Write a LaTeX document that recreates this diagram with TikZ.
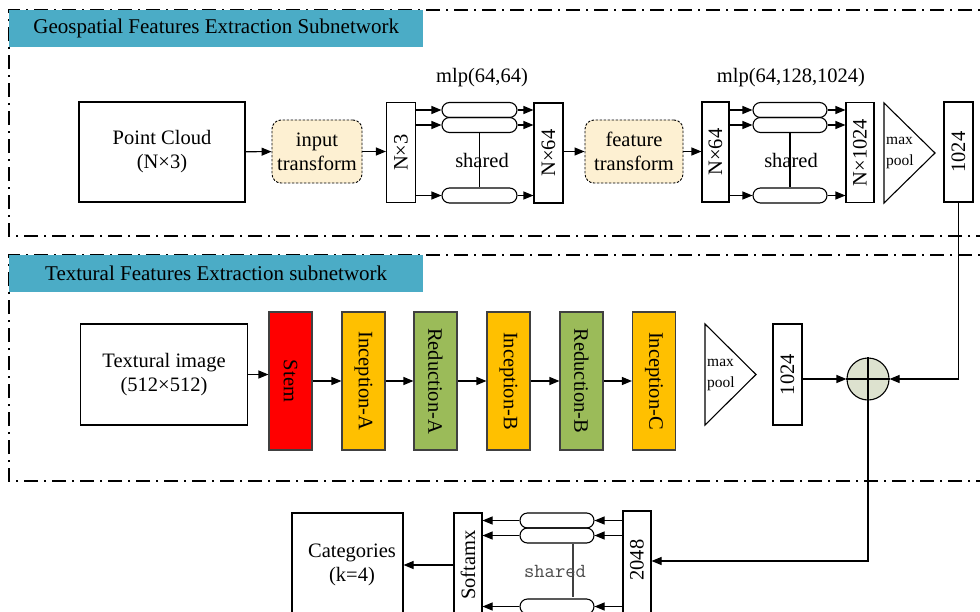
\documentclass[tikz,border=0pt]{standalone}
\usepackage{fontspec}
\setmainfont{Liberation Serif}
\usetikzlibrary{arrows.meta}
\definecolor{titleblue}{RGB}{75,172,198}
\definecolor{cream}{RGB}{253,240,210}
\definecolor{stemred}{RGB}{255,0,0}
\definecolor{incorange}{RGB}{255,192,0}
\definecolor{redgreen}{RGB}{155,187,89}
\definecolor{sumfill}{RGB}{221,226,207}
\newcommand\mainfs{\fontsize{20.5}{24}\selectfont}
\newcommand\smallfs{\fontsize{15.5}{21}\selectfont}
\begin{document}
\begin{tikzpicture}[x=1pt,y=-1pt,
  ln/.style={line width=1.1pt},
  arr/.style={line width=1.1pt, -{Triangle[length=10pt,width=8pt]}},
  dd/.style={line width=1.5pt, dash pattern=on 14pt off 6pt on 2pt off 6pt},
  vbox/.style={draw, line width=1.1pt, inner sep=0pt, minimum width=29pt, minimum height=100pt},
  bigbox/.style={draw, line width=1.1pt, inner sep=0pt, minimum width=166pt, minimum height=100pt, align=center, font=\mainfs},
  capsule/.style={draw, line width=1.1pt, rounded corners=7.5pt, minimum width=75pt, minimum height=15pt, inner sep=0pt},
  tf/.style={draw, dash pattern=on 2.5pt off 1.5pt, line width=0.9pt, rounded corners=9pt, fill=cream, minimum height=63pt, align=center, inner sep=0pt, font=\mainfs},
  incep/.style={draw=black!75, line width=1.1pt, minimum width=43pt, minimum height=138pt, inner sep=0pt},
  vtxt/.style={rotate=90, font=\mainfs, inner sep=0pt},
  rtxt/.style={rotate=-90, font=\mainfs, inner sep=0pt},
  title/.style={fill=titleblue, minimum width=414pt, minimum height=37pt, inner sep=0pt, font=\fontsize{21}{24}\selectfont}
]
\clip (0,0) rectangle (980,611);
\fill[white] (0,0) rectangle (980,611);

% ---------- section frames ----------
\draw[dd] (990,236) -- (9,236) -- (9,10) -- (990,10);
\draw[dd] (990,481) -- (9,481) -- (9,255) -- (990,255);
\node[title, anchor=north west] (t1) at (9,10) {Geospatial Features Extraction Subnetwork};
\node[title, anchor=north west] (t2) at (9,255) {Textural Features Extraction subnetwork};

% ---------- geospatial branch ----------
\node[bigbox] (pc) at (162,152) {Point Cloud\\(N×3)};
\node[tf, minimum width=90pt] (it) at (317,151.5) {input\\transform};
\node[vbox] (n3) at (401,152.5) {};
\node[vtxt] (n3t) at (n3) {N×3};
\node[capsule] (a1) at (479.5,110) {};
\node[capsule] (a2) at (479.5,125) {};
\node[capsule] (a3) at (479.5,195.5) {};
\node[vbox] (n64) at (548.5,153) {};
\node[vtxt] (n64t) at (n64) {N×64};
\node[font=\mainfs] (mlp1) at (482,78) {mlp(64,64)};
\draw[ln] (a2.south) -- (a3.north);
\node[font=\mainfs, inner sep=0pt] (sh1) at (482,160) {shared};

\node[tf, minimum width=98pt] (ft) at (634,151.5) {feature\\transform};
\node[vbox, minimum width=27pt] (n64b) at (715.5,152) {};
\node[vtxt] (n64bt) at (n64b) {N×64};
\node[capsule, minimum width=74pt] (b1) at (790,110) {};
\node[capsule, minimum width=74pt] (b2) at (790,125) {};
\node[capsule, minimum width=74pt] (b3) at (790,195.5) {};
\node[vbox, minimum width=28pt] (n1024) at (860,152.5) {};
\node[vtxt] (n1024t) at (n1024) {N×1024};
\node[font=\mainfs] (mlp2) at (791,78) {mlp(64,128,1024)};
\draw[ln] (b2.south) -- (b3.north);
\node[font=\mainfs, inner sep=0pt] (sh2) at (791,160) {shared};

\draw[ln] (884,103) -- (884,203) -- (935,153) -- cycle;
\node[font=\smallfs, align=left, anchor=west, inner sep=0pt] (mp1) at (886,153) {max\\pool};
\node[vbox] (g1024) at (958.5,152) {};
\node[vtxt] (g1024t) at (g1024) {1024};

\draw[arr] (pc) -- (it);
\draw[arr] (it) -- (it -| n3.west);
\foreach \c in {a1,a2,a3}{
  \draw[arr] (n3.east |- \c) -- (\c.west);
  \draw[arr] (\c.east) -- (n64.west |- \c);
}
\draw[arr] (n64.east |- ft) -- (ft.west);
\draw[arr] (ft.east) -- (ft -| n64b.west);
\foreach \c in {b1,b2,b3}{
  \draw[arr] (n64b.east |- \c) -- (\c.west);
  \draw[arr] (\c.east) -- (n1024.west |- \c);
}

% ---------- textural branch ----------
\node[bigbox, minimum width=167pt, minimum height=101pt] (ti) at (164,374.5) {Textural image\\(512×512)};
\node[incep, fill=stemred] (stem) at (290.5,381) {};
\node[rtxt] (stemt) at (stem) {Stem};
\node[incep, fill=incorange] (ia) at (363.5,381) {};
\node[rtxt] (iat) at (ia) {Inception-A};
\node[incep, fill=redgreen] (ra) at (435.5,381) {};
\node[rtxt] (rat) at (ra) {Reduction-A};
\node[incep, fill=incorange] (ib) at (508.5,381) {};
\node[rtxt] (ibt) at (ib) {Inception-B};
\node[incep, fill=redgreen] (rb) at (581.5,381) {};
\node[rtxt] (rbt) at (rb) {Reduction-B};
\node[incep, fill=incorange] (ic) at (654,381) {};
\node[rtxt] (ict) at (ic) {Inception-C};

\draw[arr] (ti.east) -- (ti.east -| stem.west);
\draw[arr] (stem) -- (ia);
\draw[arr] (ia) -- (ra);
\draw[arr] (ra) -- (ib);
\draw[arr] (ib) -- (rb);
\draw[arr] (rb) -- (ic);

\draw[ln] (705,324) -- (705,425) -- (756,374.5) -- cycle;
\node[font=\smallfs, align=left, anchor=west, inner sep=0pt] (mp2) at (707,374.5) {max\\pool};
\node[vbox, minimum height=101pt] (h1024) at (787.5,374.5) {};
\node[vtxt] (h1024t) at (h1024) {1024};

\node[circle, draw, line width=1.1pt, fill=sumfill, minimum size=42pt, inner sep=0pt] (sum) at (868,379) {};
\draw[ln] (sum.west) -- (sum.east);
\draw[arr] (h1024.east |- sum) -- (sum.west);
\draw[arr] (g1024.south) |- (sum.east);

% ---------- classifier ----------
\node[draw, line width=1.1pt, minimum width=111pt, minimum height=104pt, inner sep=0pt] (cat) at (347.5,565) {};
\node[font=\mainfs, align=center, inner sep=0pt] (catt) at (352,565) {Categories\\(k=4)};
\node[vbox, minimum width=28pt, minimum height=104pt] (sm) at (468,565) {};
\node[vtxt] (smt) at (sm) {Softamx};
\node[capsule, minimum width=74pt] (c1) at (557,520.5) {};
\node[capsule, minimum width=74pt] (c2) at (557,535.5) {};
\node[capsule, minimum width=74pt] (c3) at (557,606.5) {};
\node[vbox, minimum width=28pt, minimum height=104pt] (s2048) at (637,563) {};
\node[vtxt] (s2048t) at (637,560) {2048};
\coordinate (shb) at (573,597);
\draw[ln, black!75] (c2.south -| shb) -- (shb);
\node[font=\fontsize{20}{24}\selectfont\ttfamily, text=black!70, inner sep=0pt] (sh3) at (555,571) {shared};

\coordinate (k) at (868,561);
\draw[arr] (sum.north) -- (k) -- (k -| s2048.east);
\draw[arr] (sm.west |- cat.east) -- (cat.east);
\foreach \c in {c1,c2,c3}{
  \draw[arr] (s2048.west |- \c) -- (\c.east);
  \draw[arr] (\c.west) -- (sm.east |- \c);
}
\end{tikzpicture}
\end{document}
